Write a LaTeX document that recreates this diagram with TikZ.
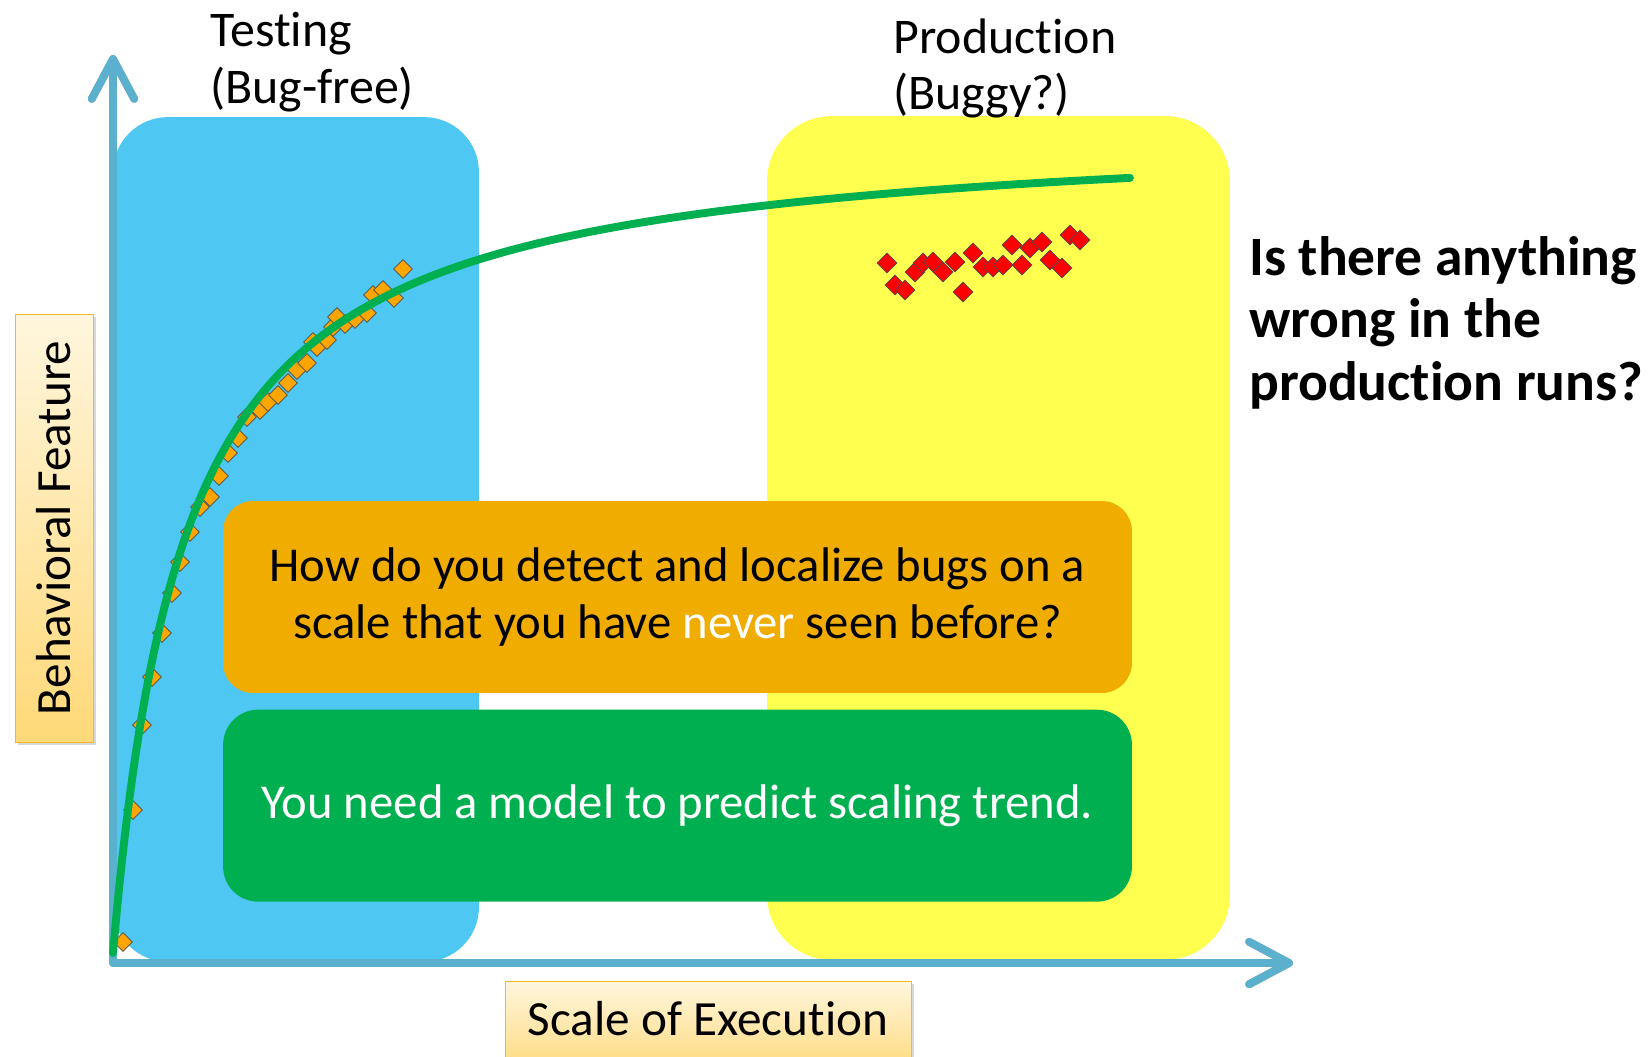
\documentclass[tikz,border=0pt]{standalone}
\usepackage{fontspec}
\setmainfont{Carlito}[Ligatures=NoCommon]
\usetikzlibrary{shapes.geometric,arrows.meta,positioning,shadows}

\definecolor{testblue}{RGB}{78,199,243}
\definecolor{prodyellow}{RGB}{255,255,80}
\definecolor{askorange}{RGB}{240,173,0}
\definecolor{modelgreen}{RGB}{0,176,80}
\definecolor{axisblue}{RGB}{91,176,205}
\definecolor{okorange}{RGB}{255,165,0}
\definecolor{lblborder}{RGB}{240,185,50}
\definecolor{lbltop}{RGB}{255,246,222}
\definecolor{lblbottom}{RGB}{255,217,120}

\begin{document}
\begin{tikzpicture}[x=0.02cm,y=-0.02cm,
    region/.style={rectangle,fill=#1,inner sep=0pt},
    msgbox/.style={rectangle,rounded corners=0.6cm,fill=#1,minimum width=18.18cm,minimum height=3.84cm,
      align=center,font=\fontsize{27.7}{31.9}\selectfont},
    phase/.style={anchor=north west,inner sep=0pt,align=left,font=\fontsize{28.4}{32.4}\selectfont},
    axislabel/.style={rectangle,draw=lblborder,thin,top color=lbltop,bottom color=lblbottom,
      font=\fontsize{28}{33}\selectfont,drop shadow={opacity=.3,shadow xshift=1.5pt,shadow yshift=-1.5pt}},
    axis/.style={draw=axisblue,line width=4.5pt,line join=round,
      {Straight Barb[round,length=0.8cm,width=0.85cm]}-{Straight Barb[round,length=0.8cm,width=0.85cm]}},
    trend/.style={draw=modelgreen,line width=4.5pt,line cap=round},
    okpt/.style={diamond,fill=okorange,draw=black!70,line width=0.4pt,inner sep=0pt,minimum size=10.8pt},
    badpt/.style={diamond,fill=red,draw=black!70,line width=0.4pt,inner sep=0pt,minimum size=11.4pt}]
    \clip (0,0) rectangle (1651,1056);
    \fill[white] (0,0) rectangle (1651,1056);

    \node[region=testblue,rounded corners=1.1cm,minimum width=7.32cm,minimum height=16.9cm] (testbox) at (296,539.5) {};
    \node[region=prodyellow,rounded corners=1.3cm,minimum width=9.26cm,minimum height=16.88cm] (prodbox) at (998.5,538) {};

    \coordinate (origin) at (113,963);
    \coordinate (ytip) at (113,55);
    \coordinate (xtip) at (1293,963);
    \draw[axis,draw=black,opacity=.25,xshift=1.5pt,yshift=-1.5pt] (ytip) -- (origin) -- (xtip);
    \draw[axis] (ytip) -- (origin) -- (xtip);

    \foreach \p [count=\i] in {(123,942),(133,810),(142,725),(152,677),(162,633),(172,593),(180,562),
        (190,532),(200,507),(210,497),(219,476),(228,453),(238,438),(247,417),(260,410),(268,402),
        (278,395),(288,383),(297,370),(307,363),(313,342),(317,347),(327,340),(333,327),(337,317),
        (345,324),(355,319),(367,313),(373,295),(383,290),(394,298),(403,269)}
      \node[okpt] (ok\i) at \p {};
    \foreach \p [count=\i] in {(887,263),(895,285),(905,290),(915,272),(923,263),(933,262),(943,272),
        (955,262),(963,292),(973,253),(983,267),(993,267),(1003,265),(1012,245),(1022,265),(1030,248),
        (1042,242),(1050,260),(1062,268),(1070,235),(1080,240)}
      \node[badpt] (bad\i) at \p {};

    % saturating trend, u = t^2 so the steep start gets enough samples
    \draw[trend] plot[domain=0:31.89,samples=160,smooth] ({113+\x*\x},{953-830*(\x*\x/(72+\x*\x))});

    \node[msgbox=askorange] (ask) at (677.5,597) {How do you detect and localize bugs on a\\
      scale that you have \textcolor{white}{never} seen before?};
    \node[msgbox=modelgreen,rounded corners=0.7cm,text=white,below=0.32cm of ask] (model) {You need a model to predict scaling trend.};

    \node[phase] (testlbl) at (210,12) {Testing\\(Bug-free)};
    \node[phase] (prodlbl) at (893,18) {Production\\(Buggy?)};
    \node[phase,font=\bfseries\fontsize{31.6}{35.6}\selectfont] (question) at (1249,236)
      {Is there anything\\wrong in the\\production runs?};

    \node[axislabel,rotate=90,minimum width=8.56cm,minimum height=1.56cm] (ylbl) at (54,528) {Behavioral Feature};
    \node[axislabel,anchor=north,minimum width=8.12cm,inner ysep=0pt,text height=30.7pt,text depth=22.8pt] (xlbl)
      at (708,981) {Scale of Execution};
\end{tikzpicture}
\end{document}
